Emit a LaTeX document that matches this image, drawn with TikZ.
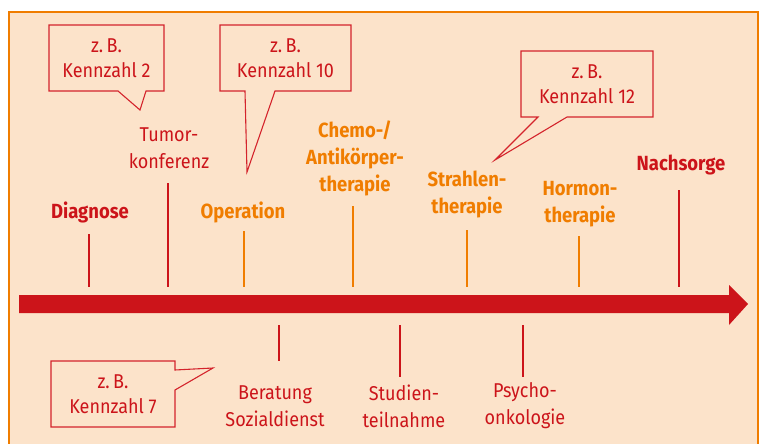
\documentclass[tikz,border=0pt]{standalone}
\usepackage{fontspec}
\setmainfont{Fira Sans}[FakeStretch=0.9]
\definecolor{dred}{RGB}{204,20,26}
\definecolor{lred}{RGB}{212,36,44}
\definecolor{orng}{RGB}{240,125,0}
\definecolor{bgc}{RGB}{252,227,202}
\begin{document}
\begin{tikzpicture}[x=1pt,y=-1pt,
  redtick/.style={draw=dred,line width=2.6pt},
  orgtick/.style={draw=orng,line width=2.4pt},
  boldred/.style={font=\fontsize{20.5}{27}\selectfont\bfseries,text=dred,align=center,inner sep=0pt},
  boldorg/.style={font=\fontsize{20.5}{27}\selectfont\bfseries,text=orng,align=center,inner sep=0pt},
  plainred/.style={font=\fontsize{20}{27}\selectfont,text=dred,align=center,inner sep=0pt},
  calltext/.style={font=\fontsize{20}{25}\selectfont,text=dred,align=center,inner sep=0pt},
  callline/.style={draw=lred,line width=1.1pt,fill=bgc,line join=miter}]
\useasboundingbox (0,0) rectangle (764,444);
\fill[white] (0,0) rectangle (764,444);
\fill[bgc] (9,12) rectangle (758,444);
\draw[orng,line width=2.5pt] (9,460) -- (9,12) -- (758,12) -- (758,460);
\clip (0,0) rectangle (764,444);

% timeline arrow
\fill[dred] (19,295) -- (729,295) -- (729,285) -- (748,304) -- (729,325) -- (729,313) -- (19,313) -- cycle;

% upper ticks
\draw[redtick] (89,234) -- (89,287);
\draw[redtick] (168,183) -- (168,287);
\draw[orgtick] (244,231) -- (244,287);
\draw[orgtick] (353,206) -- (353,287);
\draw[orgtick] (467,230) -- (467,287);
\draw[orgtick] (579,236) -- (579,287);
\draw[redtick] (679,190) -- (679,287);
% lower ticks
\draw[redtick] (279,325) -- (279,361);
\draw[redtick] (400,325) -- (400,377);
\draw[redtick] (523,325) -- (523,377);

% labels
\node[boldred] (diag) at (90,212) {Diagnose};
\node[plainred] (tumor) at (169,148) {Tumor-\\konferenz};
\node[boldorg] (op) at (243,212) {Operation};
\node[boldorg] (chemo) at (355,158) {Chemo-/\\Antikörper-\\therapie};
\node[boldorg] (strahl) at (467,194) {Strahlen-\\therapie};
\node[boldorg] (hormon) at (580,204) {Hormon-\\therapie};
\node[boldred] (nach) at (681,165) {Nachsorge};
\node[plainred] (ber) at (275,406) {Beratung\\Sozialdienst};
\node[plainred] (stud) at (404,406) {Studien-\\teilnahme};
\node[plainred] (psy) at (525,406) {Psycho-\\onkologie};

% callout 1
\coordinate (t1) at (140,110);
\draw[callline] (49,25) -- (164,25) -- (164,91) -- (146,91) -- (t1) -- (118,91) -- (49,91) -- cycle;
\node[calltext] (c1) at (106.5,58) {z.\,B.\\Kennzahl 2};
% callout 2
\coordinate (t2) at (247,172);
\draw[callline] (220,25) -- (351,25) -- (351,91) -- (275,91) -- (t2) -- (245,91) -- (220,91) -- cycle;
\node[calltext] (c2) at (285.5,58) {z.\,B.\\Kennzahl 10};
% callout 3
\coordinate (t3) at (495,160);
\draw[callline] (521,51) -- (653,51) -- (653,117) -- (567,117) -- (t3) -- (538,117) -- (521,117) -- cycle;
\node[calltext] (c3) at (587,84) {z.\,B.\\Kennzahl 12};
% callout 4
\coordinate (t4) at (213,368);
\draw[callline] (51,361) -- (175,361) -- (175,370) -- (t4) -- (175,390) -- (175,427) -- (51,427) -- cycle;
\node[calltext] (c4) at (113,394) {z.\,B.\\Kennzahl 7};
\end{tikzpicture}
\end{document}
